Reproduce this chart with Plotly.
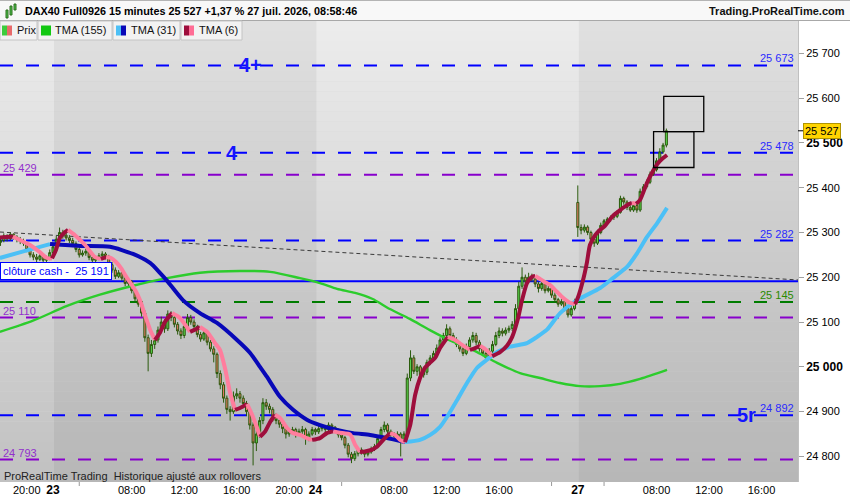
import plotly.graph_objects as go

FONT = "Arial, 'Liberation Sans', Helvetica, sans-serif"

# ---------------- data ----------------
first_bar = 64          # bar index of first candle (15-min bars, session 02:00-22:00, 80 bars/day)
opens = [
    25278, 25282, 25292, 25286, 25296, 25290, 25284, 25280, 25276, 25262, 25250, 25245, 25240, 25248, 25238, 25242,
    25255, 25268, 25285, 25300, 25294, 25288, 25282, 25275, 25262, 25250,
    25254, 25258, 25244, 25238, 25242, 25248, 25252, 25246, 25228, 25216,
    25202, 25210, 25198, 25186, 25190, 25170, 25152, 25140, 25120, 25065,
    25030, 25050, 25060, 25082, 25100, 25085, 25118, 25110, 25095, 25080,
    25070, 25090, 25110, 25100, 25090, 25072, 25062, 25076, 25055, 25040,
    25028, 24985, 24960, 24930, 24905, 24900, 24935, 24940, 24930, 24918,
    24900, 24870, 24830, 24850, 24880, 24920, 24912, 24905, 24890, 24880,
    24872, 24862, 24850, 24855, 24860, 24850, 24856, 24860, 24840, 24850,
    24860, 24855, 24862, 24866, 24860, 24870, 24865, 24858, 24848, 24842,
    24825, 24805, 24795, 24806, 24815, 24810, 24805, 24810, 24816, 24822,
    24840, 24860, 24870, 24856, 24850, 24845, 24850, 24835, 24850, 24975,
    25020, 24990, 25000, 24982, 24988, 25010, 25020, 25030, 25042, 25060,
    25070, 25085, 25070, 25060, 25050, 25040, 25030, 25045, 25060, 25070,
    25055, 25040, 25030, 25020, 25035, 25050, 25070, 25080, 25075, 25082,
    25086, 25095, 25130, 25180, 25200, 25190, 25200, 25196, 25185, 25175,
    25186, 25170, 25175, 25160, 25150, 25140, 25146, 25130, 25116, 25130,
    25367, 25311, 25305, 25312, 25300, 25285, 25276, 25300, 25316, 25326,
    25330, 25334, 25336, 25345, 25376, 25368, 25356, 25350, 25360, 25350,
    25392, 25402, 25412, 25430, 25440, 25460, 25480, 25495,
]
highs = [
    25292, 25298, 25296, 25300, 25298, 25294, 25290, 25286, 25280, 25266, 25256, 25252, 25256, 25252, 25248, 25262,
    25274, 25292, 25311, 25306, 25300, 25294, 25288, 25280, 25266, 25260,
    25264, 25262, 25248, 25248, 25254, 25258, 25256, 25250, 25234, 25222,
    25216, 25214, 25202, 25196, 25194, 25176, 25158, 25146, 25126, 25072,
    25060, 25070, 25090, 25112, 25106, 25126, 25124, 25116, 25100, 25086,
    25096, 25118, 25116, 25106, 25094, 25078, 25084, 25080, 25060, 25046,
    25032, 24992, 24966, 24936, 24912, 24945, 24952, 24946, 24936, 24924,
    24906, 24876, 24858, 24888, 24930, 24928, 24918, 24910, 24896, 24886,
    24876, 24866, 24862, 24866, 24864, 24862, 24868, 24864, 24856, 24866,
    24864, 24868, 24872, 24870, 24876, 24874, 24868, 24862, 24852, 24846,
    24830, 24810, 24812, 24820, 24820, 24814, 24816, 24822, 24828, 24846,
    24866, 24878, 24874, 24860, 24854, 24856, 24854, 24856, 24985, 25037,
    25026, 25006, 25004, 24994, 25016, 25026, 25036, 25050, 25066, 25076,
    25095, 25090, 25076, 25066, 25056, 25046, 25052, 25066, 25078, 25076,
    25060, 25046, 25034, 25042, 25058, 25078, 25088, 25086, 25088, 25092,
    25102, 25140, 25190, 25222, 25206, 25210, 25208, 25200, 25190, 25196,
    25190, 25182, 25180, 25166, 25154, 25152, 25150, 25134, 25136, 25152,
    25405, 25318, 25318, 25316, 25304, 25290, 25306, 25322, 25330, 25334,
    25338, 25340, 25350, 25382, 25380, 25372, 25360, 25366, 25364, 25398,
    25408, 25418, 25436, 25446, 25466, 25488, 25500, 25532,
]
lows = [
    25270, 25278, 25280, 25282, 25284, 25278, 25274, 25270, 25256, 25244, 25238, 25234, 25236, 25232, 25232, 25238,
    25250, 25262, 25280, 25286, 25282, 25276, 25268, 25256, 25244, 25246,
    25248, 25238, 25230, 25234, 25238, 25242, 25240, 25222, 25210, 25196,
    25198, 25192, 25180, 25180, 25164, 25146, 25134, 25112, 25056, 24990,
    25022, 25040, 25054, 25076, 25076, 25080, 25102, 25088, 25072, 25062,
    25064, 25086, 25094, 25084, 25066, 25056, 25058, 25048, 25034, 25010,
    24975, 24950, 24920, 24895, 24880, 24895, 24928, 24920, 24910, 24890,
    24860, 24780, 24812, 24842, 24872, 24904, 24896, 24878, 24872, 24864,
    24852, 24840, 24844, 24848, 24842, 24846, 24850, 24826, 24834, 24846,
    24848, 24850, 24856, 24854, 24856, 24858, 24852, 24842, 24836, 24818,
    24798, 24785, 24790, 24800, 24804, 24798, 24800, 24806, 24812, 24818,
    24836, 24854, 24850, 24844, 24838, 24840, 24800, 24830, 24846, 24968,
    24984, 24980, 24974, 24976, 24982, 25004, 25014, 25024, 25036, 25054,
    25064, 25064, 25054, 25044, 25034, 25024, 25026, 25040, 25054, 25048,
    25034, 25024, 25012, 25016, 25030, 25046, 25064, 25068, 25070, 25076,
    25080, 25090, 25126, 25174, 25182, 25186, 25190, 25178, 25166, 25170,
    25164, 25166, 25154, 25144, 25134, 25136, 25124, 25110, 25112, 25126,
    25290, 25296, 25300, 25294, 25278, 25268, 25272, 25296, 25312, 25320,
    25324, 25328, 25332, 25342, 25362, 25350, 25346, 25346, 25344, 25346,
    25388, 25398, 25408, 25426, 25436, 25456, 25476, 25490,
]
closes = [
    25282, 25292, 25286, 25296, 25290, 25284, 25280, 25276, 25262, 25250, 25245, 25240, 25248, 25238, 25242, 25255,
    25268, 25285, 25300, 25294, 25288, 25282, 25275, 25262, 25250, 25254,
    25258, 25244, 25238, 25242, 25248, 25252, 25246, 25228, 25216, 25202,
    25210, 25198, 25186, 25190, 25170, 25152, 25140, 25120, 25065, 25030,
    25050, 25060, 25082, 25100, 25085, 25118, 25110, 25095, 25080, 25070,
    25090, 25110, 25100, 25090, 25072, 25062, 25076, 25055, 25040, 25028,
    24985, 24960, 24930, 24905, 24900, 24935, 24940, 24930, 24918, 24900,
    24870, 24830, 24850, 24880, 24920, 24912, 24905, 24890, 24880, 24872,
    24862, 24850, 24855, 24860, 24850, 24856, 24860, 24840, 24850, 24860,
    24855, 24862, 24866, 24860, 24870, 24865, 24858, 24848, 24842, 24825,
    24805, 24795, 24806, 24815, 24810, 24805, 24810, 24816, 24822, 24840,
    24860, 24870, 24856, 24850, 24845, 24850, 24835, 24850, 24975, 25020,
    24990, 25000, 24982, 24988, 25010, 25020, 25030, 25042, 25060, 25070,
    25085, 25070, 25060, 25050, 25040, 25030, 25045, 25060, 25070, 25055,
    25040, 25030, 25020, 25035, 25050, 25070, 25080, 25075, 25082, 25086,
    25095, 25130, 25180, 25200, 25190, 25200, 25196, 25185, 25175, 25186,
    25170, 25175, 25160, 25150, 25140, 25146, 25130, 25116, 25130, 25145,
    25311, 25305, 25312, 25300, 25285, 25276, 25300, 25316, 25326, 25330,
    25334, 25336, 25345, 25376, 25368, 25356, 25350, 25360, 25350, 25392,
    25402, 25412, 25430, 25440, 25460, 25480, 25495, 25527,
]
bar_x = list(range(first_bar, first_bar + len(closes)))

# Indicator readings (bar index, price)
tma6_x = [63.8, 67.8, 69.9, 73.0, 76.0, 78.2, 79.7, 80.9, 82.1, 83.7, 84.6, 86.7, 89.8, 92.8, 94.6, 96.2,
          97.7, 99.2, 100.7, 102.6, 105.0, 106.5, 108.0, 109.6, 111.1, 112.6, 114.1, 116.3, 118.7, 121.8,
          123.3, 124.8, 127.0, 129.4, 130.9, 132.4, 134.0, 135.5, 137.0, 139.2, 140.7, 142.2, 143.1, 144.6,
          146.2, 147.7, 149.2, 151.3, 153.2, 155.3, 157.4, 159.0, 161.4, 163.5, 165.4, 167.5, 170.6, 172.1,
          173.6, 175.1, 177.3, 178.8, 181.2, 182.8, 184.3, 185.8, 187.3, 188.9, 190.4, 191.9, 193.4, 194.9,
          196.5, 198.0, 200.4, 202.6, 204.7, 207.1, 208.7, 210.2, 212.0, 213.9, 216.3, 218.4, 220.0, 221.8,
          223.0, 224.5, 226.0, 227.0, 228.5, 230.0, 231.5, 233.7, 235.5, 237.6, 239.2, 240.1, 241.6, 242.8,
          243.7, 245.3, 246.8, 248.3, 250.7, 252.9, 255.0, 256.5, 257.8, 259.0, 261.1, 262.6, 264.5, 266.0, 267.2]
tma6_y = [25289, 25291, 25283, 25272, 25256, 25243, 25242, 25261, 25288, 25301, 25306, 25294, 25272, 25245, 25241, 25245,
          25243, 25234, 25221, 25198, 25172, 25149, 25116, 25083, 25060, 25076, 25100, 25120, 25109, 25078,
          25083, 25089, 25078, 25053, 25038, 24998, 24942, 24904, 24908, 24917, 24893, 24864, 24844, 24855,
          24877, 24893, 24886, 24864, 24852, 24848, 24841, 24837, 24841, 24852, 24856, 24853, 24849, 24826,
          24810, 24811, 24815, 24822, 24841, 24852, 24848, 24837, 24832, 24870, 24937, 24975, 24998, 25009,
          25020, 25042, 25067, 25060, 25049, 25038, 25042, 25047, 25038, 25024, 25033, 25047, 25067, 25109,
          25149, 25187, 25201, 25203, 25196, 25189, 25183, 25167, 25154, 25143, 25140, 25156, 25194, 25234,
          25272, 25294, 25306, 25315, 25337, 25350, 25361, 25366, 25364, 25373, 25411, 25433, 25455, 25466, 25473]

tma31_x = [63.8, 71.5, 79.1, 88.2, 97.4, 104.4, 109.6, 112.6, 114.8, 119.6, 124.8, 130.0, 136.1, 140.1, 143.1,
           145.2, 149.2, 153.2, 157.4, 161.4, 166.6, 171.5, 176.7, 181.8, 187.3, 191.9, 195.0, 198.0, 200.1,
           203.2, 206.2, 209.3, 212.3, 215.4, 219.3, 224.5, 227.6, 230.6, 234.6, 239.8, 246.8, 250.7, 255.0,
           258.1, 261.1, 264.2, 267.2]
tma31_y = [25243, 25259, 25274, 25270, 25268, 25252, 25232, 25210, 25192, 25149, 25120, 25098, 25060, 25031, 25000,
           24978, 24933, 24904, 24882, 24870, 24859, 24852, 24848, 24841, 24832, 24837, 24848, 24866, 24888,
           24926, 24964, 24998, 25016, 25033, 25045, 25053, 25067, 25083, 25120, 25149, 25176, 25198, 25223,
           25254, 25290, 25321, 25355]

tma155_x = [63.8, 73.9, 84.3, 94.3, 104.4, 114.8, 124.8, 137.0, 146.2, 155.3, 161.4, 166.6, 172.1, 177.3,
            182.7, 188.8, 194.9, 201.9, 209.3, 215.4, 222.4, 228.5, 234.6, 240.7, 246.8, 252.9, 259.0, 267.2]
tma155_y = [25078, 25103, 25136, 25161, 25181, 25198, 25210, 25214, 25212, 25198, 25187, 25174, 25165, 25152,
            25129, 25107, 25082, 25056, 25033, 25009, 24986, 24975, 24964, 24957, 24957, 24962, 24973, 24993]

# Horizontal levels
level_values = [25673, 25478, 25429, 25282, 25191, 25145, 25110, 24892, 24793]
level_kinds = ["blue", "blue", "purple", "blue", "close", "green", "purple", "blue", "purple"]
level_label_side = ["right", "right", "left", "right", "box", "right", "left", "right", "left"]

wave_labels = ["4+", "4", "5r"]
wave_x = [140.1, 134.6, 291.3]
wave_y = [25673, 25478, 24892]

trend_x = [63.84, 307.13]
trend_y = [25301, 25194]

box_x0 = [263.1, 266.2]
box_x1 = [275.4, 278.4]
box_y0 = [25445, 25525]
box_y1 = [25525, 25604]

day_labels = ["22", "23", "24", "27"]
day_start_bar = [0, 80, 160, 240]
session_start_hour = 2
bars_per_hour = 4
shaded_days = ["23", "27"]

tick_day = ["22", "23", "23", "23", "23", "23", "23", "24", "24", "24", "24", "24", "24", "27", "27", "27", "27", "27"]
tick_hour = [20, 2, 4, 8, 12, 16, 20, 2, 4, 8, 12, 16, 20, 2, 4, 8, 12, 16]
tick_text = ["20:00", "D23", "", "08:00", "12:00", "16:00", "20:00", "D24", "", "08:00", "12:00", "16:00", "",
             "D27", "", "08:00", "12:00", "16:00"]

y_ticks = [24800, 24900, 25000, 25100, 25200, 25300, 25400, 25500, 25600, 25700]
y_major = [25000, 25500]

X_RANGE = [63.84, 307.13]
Y_RANGE = [24742.9, 25772.1]

# ---------------- helpers ----------------
W, H = 850, 500
PL, PT, PR, PB = 0, 21, 52, 18
PW, PH = W - PL - PR, H - PT - PB


def fmt(v):
    return f"{int(v):,}".replace(",", " ")


def px(x):
    return x / PW


def py(y):
    return (PT + PH - y) / PH


day_pos = dict(zip(day_labels, day_start_bar))

fig = go.Figure()

# candles
fig.add_trace(go.Candlestick(
    x=bar_x, open=opens, high=highs, low=lows, close=closes,
    increasing=dict(line=dict(color="#2a5a0c", width=1), fillcolor="#58d44c"),
    decreasing=dict(line=dict(color="#2a5a0c", width=1), fillcolor="#ee7a68"),
    whiskerwidth=0, hoverinfo="skip", showlegend=False,
))


def seg_traces(xs, ys, up, down, width):
    out = []
    i, n = 0, len(xs)
    while i < n - 1:
        rising = ys[i + 1] >= ys[i]
        j = i + 1
        while j < n - 1 and (ys[j + 1] >= ys[j]) == rising:
            j += 1
        out.append(go.Scatter(x=xs[i:j + 1], y=ys[i:j + 1], mode="lines",
                              line=dict(color=up if rising else down, width=width,
                                        shape="spline", smoothing=0.6),
                              hoverinfo="skip", showlegend=False))
        i = j
    return out


fig.add_trace(go.Scatter(x=tma155_x, y=tma155_y, mode="lines",
                         line=dict(color="#2ccc2c", width=2.4, shape="spline", smoothing=0.8),
                         hoverinfo="skip", showlegend=False))
for t in seg_traces(tma31_x, tma31_y, "#4cc0f6", "#0808b8", 4):
    fig.add_trace(t)
for t in seg_traces(tma6_x, tma6_y, "#9e0e3c", "#ff7d9d", 4):
    fig.add_trace(t)

shapes = []
# background vertical gradient
N = 46
top_c, bot_c = 236, 193
for i in range(N):
    c = round(top_c + (bot_c - top_c) * (i + 0.5) / N)
    shapes.append(dict(type="rect", xref="paper", yref="paper", x0=0, x1=1,
                       y0=1 - (i + 1) / N, y1=1 - i / N, fillcolor=f"rgb({c},{c},{c})",
                       line=dict(width=0), layer="below"))
# darker alternate days
for d in shaded_days:
    s = day_pos[d] + 0.3
    shapes.append(dict(type="rect", xref="x", yref="paper", x0=s, x1=min(s + 80, X_RANGE[1]),
                       y0=0, y1=1, fillcolor="rgba(0,0,0,0.05)", line=dict(width=0), layer="below"))

colors = {"blue": "#0000ff", "purple": "#8800cc", "green": "#007c00", "close": "#0000ff"}
label_colors = {"blue": "#2a2aff", "purple": "#9230cc", "green": "#2a8a00", "close": "#0000ff"}
for v, k in zip(level_values, level_kinds):
    if k == "close":
        ln = dict(color=colors[k], width=2)
    else:
        ln = dict(color=colors[k], width=2, dash="13px,13px")
    shapes.append(dict(type="line", xref="paper", yref="y", x0=0, x1=1, y0=v, y1=v, line=ln, layer="below"))

shapes.append(dict(type="line", xref="x", yref="y", x0=trend_x[0], x1=trend_x[1], y0=trend_y[0], y1=trend_y[1],
                   line=dict(color="#3a3a3a", width=1, dash="4px,3px"), layer="below"))

for a, b, c, d in zip(box_x0, box_x1, box_y0, box_y1):
    shapes.append(dict(type="rect", xref="x", yref="y", x0=a, x1=b, y0=c, y1=d,
                       line=dict(color="#000000", width=1.3), fillcolor="rgba(0,0,0,0)", layer="above"))

# x minor tick marks (unlabelled)
tick_vals = [day_pos[d] + (h - session_start_hour) * bars_per_hour for d, h in zip(tick_day, tick_hour)]
for tv, tt in zip(tick_vals, tick_text):
    if tt == "":
        shapes.append(dict(type="line", xref="x", yref="paper", x0=tv, x1=tv, y0=0, y1=-4 / PH,
                           line=dict(color="#999999", width=1), layer="above"))

# current price tick
shapes.append(dict(type="line", xref="paper", yref="y", x0=1, x1=1 + 5 / PW, y0=closes[-1], y1=closes[-1],
                   line=dict(color="#000000", width=1), layer="above"))

# header title bar
shapes.append(dict(type="rect", xref="paper", yref="paper", x0=0, x1=W / PW, y0=py(20.5), y1=py(0),
                   fillcolor="#f8f8f8", line=dict(width=0), layer="above"))
shapes.append(dict(type="line", xref="paper", yref="paper", x0=0, x1=W / PW, y0=py(0.5), y1=py(0.5),
                   line=dict(color="#b4b4b4", width=1), layer="above"))
shapes.append(dict(type="line", xref="paper", yref="paper", x0=0, x1=W / PW, y0=py(20.5), y1=py(20.5),
                   line=dict(color="#a8a8a8", width=1), layer="above"))
# small candle icon
for (x0, x1, y0, y1) in [(6, 8, 10, 18), (10, 12, 6, 15), (14, 16, 4, 10)]:
    shapes.append(dict(type="rect", xref="paper", yref="paper", x0=px(x0), x1=px(x1), y0=py(y1), y1=py(y0),
                       fillcolor="#4cc44c", line=dict(color="#2c6c1c", width=1), layer="above"))

# legend tabs
tabs = [(0, 37), (38, 112), (113, 180), (181, 242)]
for (a, b) in tabs:
    shapes.append(dict(type="rect", xref="paper", yref="paper", x0=px(a), x1=px(b), y0=py(40), y1=py(21),
                       fillcolor="#f2f2f2", line=dict(color="#c4c4c4", width=1), layer="above"))
icons = [(2, 7, "#3ccc3c"), (7, 12, "#e86a6a"), (41, 51, "#12c812"), (116, 121, "#4cc0f6"),
         (121, 126, "#0808b8"), (184, 189, "#9e0e3c"), (189, 194, "#ff6d95")]
for (a, b, col) in icons:
    shapes.append(dict(type="rect", xref="paper", yref="paper", x0=px(a), x1=px(b), y0=py(35.5), y1=py(25.5),
                       fillcolor=col, line=dict(width=0), layer="above"))

ann = []
# level labels
for v, k, side in zip(level_values, level_kinds, level_label_side):
    if side == "right":
        ann.append(dict(x=px(795), xref="paper", y=v, yref="y", text=fmt(v), showarrow=False,
                        xanchor="right", yanchor="bottom", borderpad=0,
                        font=dict(family=FONT, size=11, color=label_colors[k])))
    elif side == "left":
        ann.append(dict(x=px(2), xref="paper", y=v, yref="y", text=fmt(v), showarrow=False,
                        xanchor="left", yanchor="bottom", borderpad=0,
                        font=dict(family=FONT, size=11, color=label_colors[k])))
    else:
        ann.append(dict(x=0, xref="paper", y=v, yref="y", text="clôture cash -\u00a0 " + fmt(v),
                        showarrow=False, xanchor="left", yanchor="bottom", yshift=1,
                        bgcolor="#ffffff", bordercolor="#0000ff", borderwidth=1, borderpad=2,
                        font=dict(family=FONT, size=11, color="#0000ff")))
for t, x, y in zip(wave_labels, wave_x, wave_y):
    ann.append(dict(x=x, y=y, xref="x", yref="y", text=f"<b>{t}</b>", showarrow=False,
                    xanchor="center", yanchor="middle",
                    font=dict(family=FONT, size=20, color="#1414ff")))
# current price label
ann.append(dict(x=1 + 5 / PW, xref="paper", y=closes[-1], yref="y", text=fmt(closes[-1]), showarrow=False,
                xanchor="left", yanchor="middle", bgcolor="#ffd400", bordercolor="#b09400", borderwidth=1,
                borderpad=1, font=dict(family=FONT, size=11, color="#000000")))
# header texts
ann.append(dict(x=px(23), y=py(11), xref="paper", yref="paper", xanchor="left", yanchor="middle",
                text=f"<b>DAX40 Full0926 15 minutes {fmt(closes[-1])} +1,37 % 27 juil. 2026, 08:58:46</b>",
                showarrow=False, font=dict(family=FONT, size=10.8, color="#000000")))
ann.append(dict(x=px(847), y=py(11), xref="paper", yref="paper", xanchor="right", yanchor="middle",
                text="<b>Trading.ProRealTime.com</b>", showarrow=False,
                font=dict(family=FONT, size=11, color="#111111")))
for txt, x in [("Prix", 15), ("TMA (155)", 53), ("TMA (31)", 129), ("TMA (6)", 197)]:
    ann.append(dict(x=px(x), y=py(30.5), xref="paper", yref="paper", xanchor="left", yanchor="middle",
                    text=txt, showarrow=False, font=dict(family=FONT, size=11, color="#111111")))
ann.append(dict(x=px(2), y=py(476), xref="paper", yref="paper", xanchor="left", yanchor="middle",
                text="ProRealTime Trading\u00a0 Historique ajusté aux rollovers", showarrow=False,
                font=dict(family=FONT, size=11, color="#222222")))

x_ticktext = [f'<span style="font-size:12px"><b>{t[1:]}</b></span>' if t.startswith("D") else t
              for t in tick_text]
y_ticktext = [f'<span style="font-size:12px"><b>{fmt(v)}</b></span>' if v in y_major else fmt(v)
              for v in y_ticks]

fig.update_layout(
    width=W, height=H,
    margin=dict(l=PL, r=PR, t=PT, b=PB, pad=0),
    paper_bgcolor="#ffffff", plot_bgcolor="#d8d8d8",
    showlegend=False, hovermode=False, boxgap=0.12,
    shapes=shapes, annotations=ann,
    font=dict(family=FONT, size=11, color="#000000"),
    xaxis=dict(range=X_RANGE, tickvals=tick_vals, ticktext=x_ticktext, ticks="", showgrid=False,
               zeroline=False, showline=False, rangeslider=dict(visible=False), fixedrange=True,
               tickfont=dict(family=FONT, size=11, color="#000000")),
    yaxis=dict(range=Y_RANGE, side="right", tickvals=y_ticks, ticktext=y_ticktext, ticks="outside",
               ticklen=5, tickcolor="#a0a0a0", showgrid=False, zeroline=False, showline=True,
               linecolor="#c0c0c0", linewidth=1, fixedrange=True,
               tickfont=dict(family=FONT, size=11, color="#000000")),
)

fig.write_html("out.html", config={"displayModeBar": False},
               post_script="document.body.style.margin='0';document.body.style.overflow='hidden';")
